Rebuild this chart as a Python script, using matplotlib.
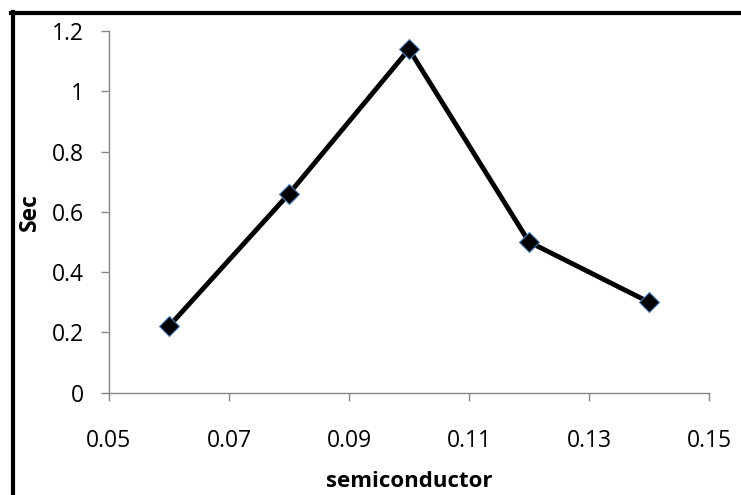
import matplotlib.pyplot as plt

x_vals = [0.06, 0.08, 0.10, 0.12, 0.14]
y_vals = [0.22, 0.66, 1.14, 0.50, 0.30]
x_ticks = [0.05, 0.07, 0.09, 0.11, 0.13, 0.15]
x_tick_labels = ["0.05", "0.07", "0.09", "0.11", "0.13", "0.15"]
y_ticks = [0, 0.2, 0.4, 0.6, 0.8, 1.0, 1.2]
y_tick_labels = ["0", "0.2", "0.4", "0.6", "0.8", "1", "1.2"]

plt.rcParams["font.family"] = ["Open Sans", "DejaVu Sans"]

fig = plt.figure(figsize=(7.41, 4.95), dpi=100)
ax = fig.add_axes([0.147, 0.207, 0.81, 0.730])

ax.plot(x_vals, y_vals, color="black", linewidth=3.5, marker="D", markersize=10,
        markerfacecolor="black", markeredgecolor="#4a7ebb", markeredgewidth=0.8,
        zorder=3)

ax.set_xlim(0.05, 0.15)
ax.set_ylim(0, 1.2)
ax.set_xticks(x_ticks)
ax.set_xticklabels(x_tick_labels)
ax.set_yticks(y_ticks)
ax.set_yticklabels(y_tick_labels)
for s in ["top", "right"]:
    ax.spines[s].set_visible(False)
for s in ["left", "bottom"]:
    ax.spines[s].set_color("#868686")
    ax.spines[s].set_linewidth(1)
ax.tick_params(axis="both", direction="out", length=5.8, width=1, color="#868686",
               labelsize=16.5, labelcolor="black")
ax.tick_params(axis="x", pad=20.5)
ax.tick_params(axis="y", pad=12.5)

ax.set_xlabel("semiconductor", fontsize=16, fontweight="bold")
ax.set_ylabel("Sec", fontsize=16.5, fontweight="bold")
ax.xaxis.set_label_coords(0.5, -0.217)
ax.yaxis.set_label_coords(-0.111, 0.5)

# border lines of the chart area (left and top only visible)
fig.add_artist(plt.Line2D([0.017, 0.017], [0, 0.975], color="black", linewidth=3,
                          transform=fig.transFigure))
fig.add_artist(plt.Line2D([0.0155, 1.0], [0.973, 0.973], color="black", linewidth=3,
                          transform=fig.transFigure))

fig.savefig("out.png", dpi=100)
